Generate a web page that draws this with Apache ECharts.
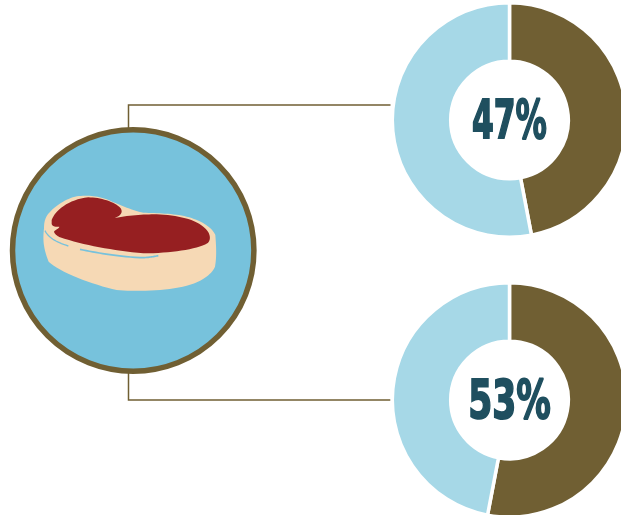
<!DOCTYPE html>
<html>
<head>
<meta charset="utf-8">
<style>html,body{margin:0;padding:0;background:#fff}#chart{width:621px;height:515px}</style>
<script src="https://cdn.jsdelivr.net/npm/echarts@6/dist/echarts.min.js"></script>
</head>
<body>
<div id="chart"></div>
<script>
// Shares shown by the two donuts
const categories = ['Yes', 'No'];
const topValues = [47, 53];
const bottomValues = [53, 47];

const BROWN = '#705F33';
const PALE = '#A6D8E7';
const SKY = '#77C2DC';
const INK = '#1F4F5F';
const CREAM = '#F6D9B5';
const MEAT = '#961F21';

const chart = echarts.init(document.getElementById('chart'), null, { renderer: 'canvas' });

function donut(values, cy) {
  return {
    type: 'pie',
    center: [509.5, cy],
    radius: [58.8, 117.2],
    startAngle: 90,
    clockwise: true,
    silent: true,
    animation: false,
    label: { show: false },
    labelLine: { show: false },
    itemStyle: { borderColor: '#fff', borderWidth: 3.5 },
    data: categories.map((name, i) => ({
      name,
      value: values[i],
      itemStyle: { color: i === 0 ? BROWN : PALE }
    }))
  };
}

// Heavy condensed percentage in the donut hole
function percentText(value, cy, sx) {
  return {
    type: 'text',
    x: 509.5,
    y: cy,
    scaleX: sx,
    z: 20,
    style: {
      text: value + '%',
      fill: INK,
      stroke: INK,
      lineWidth: 2,
      font: 'bold 54px "DejaVu Sans"',
      align: 'center',
      verticalAlign: 'middle'
    }
  };
}

// Connector from the plate to a donut
function connector(y0, y1) {
  return {
    type: 'polyline',
    z: 1,
    shape: { points: [[128.5, y0], [128.5, y1], [390.5, y1]] },
    style: { stroke: BROWN, lineWidth: 1.5, fill: null }
  };
}

// Flattens a chain of cubic segments into a point list for polygon/polyline shapes
function flatten(start, curves) {
  const pts = [start];
  let p = start;
  curves.forEach(([a, b, c, d, e, f]) => {
    for (let i = 1; i <= 16; i++) {
      const t = i / 16, u = 1 - t;
      pts.push([
        u * u * u * p[0] + 3 * u * u * t * a + 3 * u * t * t * c + t * t * t * e,
        u * u * u * p[1] + 3 * u * u * t * b + 3 * u * t * t * d + t * t * t * f
      ]);
    }
    p = [e, f];
  });
  return pts;
}

const fatOutline = flatten([132, 325], [
  [128, 360, 130, 385, 146, 425], [175, 455, 280, 495, 350, 510],
  [400, 515, 500, 514, 560, 497], [600, 487, 635, 465, 645, 440],
  [650, 410, 649, 385, 646, 345], [635, 320, 600, 300, 560, 290],
  [520, 280, 470, 280, 430, 278], [395, 272, 350, 250, 320, 238],
  [295, 228, 255, 224, 225, 230], [190, 240, 160, 262, 142, 285],
  [133, 300, 132, 312, 132, 325]
]);
const meatOutline = flatten([155, 300], [
  [165, 272, 205, 238, 265, 232], [300, 232, 345, 245, 362, 265],
  [372, 280, 355, 293, 335, 296], [385, 285, 430, 283, 470, 283],
  [530, 285, 590, 298, 615, 325], [632, 340, 634, 360, 622, 370],
  [590, 388, 510, 400, 430, 400], [340, 392, 250, 375, 180, 352],
  [168, 346, 160, 338, 163, 333], [170, 328, 178, 325, 178, 320],
  [170, 320, 158, 322, 155, 312], [155, 308, 155, 304, 155, 300]
]);
const rimLeft = flatten([135, 332], [[145, 352, 165, 365, 205, 378]]);
const rimRight = flatten([240, 388], [[290, 398, 340, 408, 420, 413], [445, 413, 460, 410, 475, 407]]);

// Steak drawing, sketched on a 3x grid and scaled down into the plate
const steak = {
  type: 'group',
  x: 0,
  y: 120,
  scaleX: 1 / 3,
  scaleY: 1 / 3,
  z: 10,
  children: [
    { type: 'polygon', z: 10, shape: { points: fatOutline }, style: { fill: CREAM } },
    { type: 'polygon', z: 11, shape: { points: meatOutline }, style: { fill: MEAT } },
    { type: 'polyline', z: 11, shape: { points: rimLeft }, style: { stroke: SKY, lineWidth: 4, fill: null } },
    { type: 'polyline', z: 11, shape: { points: rimRight }, style: { stroke: SKY, lineWidth: 5, fill: null } }
  ]
};

chart.setOption({
  backgroundColor: '#fff',
  animation: false,
  series: [donut(topValues, 120), donut(bottomValues, 400)],
  graphic: [
    connector(130, 105),
    connector(372, 400),
    {
      type: 'circle',
      z: 5,
      shape: { cx: 133.2, cy: 250.5, r: 120.7 },
      style: { fill: SKY, stroke: BROWN, lineWidth: 5.5 }
    },
    steak,
    percentText(topValues[0], 124, 0.58),
    percentText(bottomValues[0], 404, 0.64)
  ]
});
</script>
</body>
</html>
